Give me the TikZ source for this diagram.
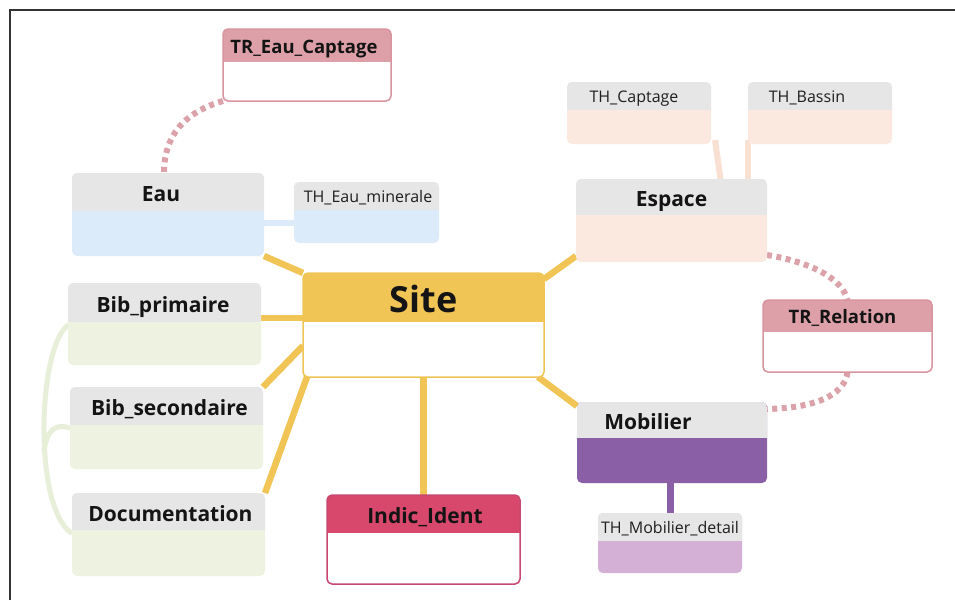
\documentclass[tikz,border=0pt]{standalone}
\usepackage{fontspec}
\setmainfont{Open Sans}
\usetikzlibrary{calc,backgrounds}
\definecolor{hgray}{HTML}{E6E6E6}
\definecolor{lblue}{HTML}{DCEBF9}
\definecolor{peach}{HTML}{FBE8DE}
\definecolor{lgreen}{HTML}{EDF3E0}
\definecolor{purp}{HTML}{8A5FA6}
\definecolor{lpurp}{HTML}{D4B0D7}
\definecolor{trhead}{HTML}{DDA0A8}
\definecolor{trborder}{HTML}{D8949F}
\definecolor{yel}{HTML}{F0C555}
\definecolor{crim}{HTML}{D8486D}
\definecolor{crimb}{HTML}{C94870}
\definecolor{dotpink}{HTML}{DCA2AA}
\definecolor{grnline}{HTML}{E8EFD9}
\definecolor{peachline}{HTML}{F8E0D2}
\definecolor{frame}{HTML}{333333}
\tikzset{
  box/.style n args={3}{fill=#3, rounded corners=5pt, inner sep=0pt, outer sep=0pt, anchor=north west,
    path picture={\fill[#2, sharp corners] (path picture bounding box.north west) rectangle ([yshift=-#1]path picture bounding box.north east);}},
  bigl/.style={font=\bfseries\fontsize{21}{21}\selectfont, anchor=mid, inner sep=0pt, text=black!92},
  trl/.style={font=\bfseries\fontsize{18.5}{18.5}\selectfont, anchor=mid, inner sep=0pt, text=black!92},
  thl/.style={font=\fontsize{16}{16}\selectfont, anchor=mid, inner sep=0pt, text=black!88},
  yconn/.style={draw=yel, line width=6.5pt},
  dotc/.style={draw=dotpink, line width=6pt, dash pattern=on 5pt off 4.5pt},
  grn/.style={draw=grnline, line width=5pt},
}
\begin{document}
\begin{tikzpicture}[x=1pt,y=-1pt]
\useasboundingbox (0,0) rectangle (955,600);
% boxes
\node[box={33pt}{trhead}{white}, draw=trborder, line width=1.5pt, minimum width=168pt, minimum height=72pt] (tre) at (223,29) {};
\node[box={38pt}{hgray}{lblue}, minimum width=192pt, minimum height=83pt] (eau) at (72,173) {};
\node[box={28pt}{hgray}{lblue}, minimum width=145pt, minimum height=61pt] (thm) at (294,182) {};
\node[box={28pt}{hgray}{peach}, minimum width=144pt, minimum height=62pt] (thc) at (567,82) {};
\node[box={28pt}{hgray}{peach}, minimum width=144pt, minimum height=62pt] (thb) at (748,82) {};
\node[box={36pt}{hgray}{peach}, minimum width=191pt, minimum height=83pt] (esp) at (576,179) {};
\node[box={32pt}{trhead}{white}, draw=trborder, line width=1.5pt, minimum width=169pt, minimum height=72pt] (rel) at (763,300) {};
\node[box={49pt}{yel}{white}, draw=yel, line width=1.5pt, minimum width=241pt, minimum height=104pt] (site) at (303,273) {};
\node[box={39pt}{hgray}{lgreen}, minimum width=193pt, minimum height=82pt] (bibp) at (68,283) {};
\node[box={38pt}{hgray}{lgreen}, minimum width=193pt, minimum height=82pt] (bibs) at (70,387) {};
\node[box={37pt}{hgray}{lgreen}, minimum width=193pt, minimum height=83pt] (doc) at (72,493) {};
\node[box={36pt}{hgray}{purp}, minimum width=190pt, minimum height=81pt] (mob) at (577,402) {};
\node[box={28pt}{hgray}{lpurp}, minimum width=144pt, minimum height=60pt] (thmd) at (598,513) {};
\node[box={38pt}{crim}{white}, draw=crimb, line width=1.5pt, minimum width=193pt, minimum height=89pt] (ind) at (327,495) {};
% labels
\node[trl] (tre-l) at ($(tre.north)+(-3,21.5)$) {TR\_Eau\_Captage};
\node[bigl] (eau-l) at ($(eau.north)+(-7,26)$) {Eau};
\node[thl] (thm-l) at ($(thm.north)+(1.5,18)$) {TH\_Eau\_minerale};
\node[thl] (thc-l) at ($(thc.north)+(-5,18)$) {TH\_Captage};
\node[thl] (thb-l) at ($(thb.north)+(-13,18)$) {TH\_Bassin};
\node[bigl] (esp-l) at ($(esp.north)+(0,25)$) {Espace};
\node[trl] (rel-l) at ($(rel.north)+(-5,21)$) {TR\_Relation};
\node[font=\bfseries\fontsize{36}{36}\selectfont, anchor=mid, inner sep=0pt, text=black!92] (site-l) at ($(site.north)+(0,36.5)$) {Site};
\node[bigl] (bibp-l) at ($(bibp.north)+(-1.5,26.5)$) {Bib\_primaire};
\node[bigl] (bibs-l) at ($(bibs.north)+(3,26)$) {Bib\_secondaire};
\node[bigl] (doc-l) at ($(doc.north)+(2,25.5)$) {Documentation};
\node[bigl] (mob-l) at ($(mob.north)+(-24,25)$) {Mobilier};
\node[thl] (thmd-l) at ($(thmd.north)+(0,18)$) {TH\_Mobilier\_detail};
\node[bigl] (ind-l) at ($(ind.north)+(1.5,26)$) {Indic\_Ident};
% connectors
\begin{scope}[on background layer]
\fill[white] (0,0) rectangle (955,600);
\draw[draw=frame, line width=1.5pt] (10,600) -- (10,10) -- (955,10);
\draw[yconn] (eau.south east) -- (site.north west);
\draw[yconn] ([yshift=7pt]bibp.east) -- ([yshift=7pt]site.west -| bibp.east) -- ([yshift=7pt]site.west);
\draw[yconn] (bibs.north east) -- ($(site.north west)!0.7!(site.south west)$);
\draw[yconn] (doc.north east) -- ($(site.south west)+(4,0)$);
\draw[yconn] ($(esp.south west)+(0,-6)$) -- ($(site.north east)+(0,6)$);
\draw[yconn] ($(site.south east)+(-6,0)$) -- ($(mob.north west)+(0,4)$);
\draw[yconn] (site.south) -- (ind.north);
\coordinate (thmin) at ($(thm.west)+(0,10)$);
\draw[draw=lblue, line width=6pt] (eau.east |- thmin) -- (thmin);
\draw[draw=peachline, line width=6pt] ($(thc.south east)+(4,-4)$) -- ($(esp.north)+(49,0)$);
\draw[draw=peachline, line width=6pt] ($(thb.south west)+(0,-4)$) -- (esp.north -| thb.south west);
\draw[draw=purp, line width=7pt] (mob.south -| thmd.north) -- (thmd.north);
\draw[dotc] (tre.south west) .. controls (185,112) and (164,135) .. ($(eau.north)+(-4,0)$);
\draw[dotc] ($(esp.north east)+(0,76)$) .. controls (810,262) and (842,278) .. (rel.north);
\draw[dotc] (rel.south) .. controls (845,395) and (815,408) .. ($(mob.north east)+(0,7)$);
\draw[grn] ($(bibp.west)+(2,0)$) .. controls (38,340) and (32,508) .. ($(doc.west)+(0,-1)$);
\draw[grn] (bibs.west) .. controls (52,422) and (46,435) .. (44,452);
\end{scope}
\end{tikzpicture}
\end{document}
